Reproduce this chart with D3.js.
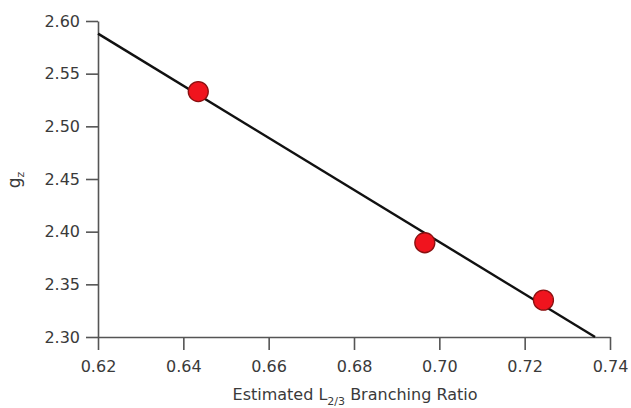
<!DOCTYPE html>
<html>
<head>
<meta charset="utf-8">
<script src="https://cdn.jsdelivr.net/npm/d3@7"></script>
<style>
  body { margin: 0; background: #fff; }
  svg { display: block; }
  text { font-family: "DejaVu Sans", sans-serif; }
</style>
</head>
<body>
<svg id="chart" width="631" height="408"></svg>
<script>
// measured points
var ratio = [0.6435, 0.6966, 0.7244];
var gz = [2.533, 2.3895, 2.335];

// fitted line end points
var fitX = [0.62, 0.7365];
var fitY = [2.588, 2.30];

var xTicks = [0.62, 0.64, 0.66, 0.68, 0.70, 0.72, 0.74];
var yTicks = [2.30, 2.35, 2.40, 2.45, 2.50, 2.55, 2.60];

var chart = d3.select("#chart");
var axisColor = "#555";

var x = d3.scaleLinear().domain([0.62, 0.74]).range([98, 610]);
var y = d3.scaleLinear().domain([2.30, 2.60]).range([337, 21]);

// axes
var yAxis = chart
  .append("g")
  .attr("transform", "translate(" + x(0.62) + ",0)")
  .call(
    d3.axisLeft(y).tickValues(yTicks).tickFormat(d3.format(".2f"))
      .tickSize(12).tickSizeOuter(0).tickPadding(6)
  );

var xAxis = chart
  .append("g")
  .attr("transform", "translate(0," + y(2.30) + ")")
  .call(
    d3.axisBottom(x).tickValues(xTicks).tickFormat(d3.format(".2f"))
      .tickSize(13).tickSizeOuter(0).tickPadding(11)
  );

[xAxis, yAxis].forEach(function (g) {
  g.selectAll("path, line").attr("stroke", axisColor).attr("stroke-width", 1.6);
  g.selectAll("text")
    .attr("fill", "#3a3a3a")
    .style("font-size", "16px");
});

// fit line
var pts = fitX.map(function (d, i) { return [d, fitY[i]]; });
chart
  .append("path")
  .datum(pts)
  .attr("fill", "none")
  .attr("stroke", "#111")
  .attr("stroke-width", 2.4)
  .attr("d", d3.line().x(function (d) { return x(d[0]); }).y(function (d) { return y(d[1]); }));

// points
chart
  .selectAll("circle.pt")
  .data(ratio)
  .enter()
  .append("circle")
  .attr("class", "pt")
  .attr("cx", function (d) { return x(d); })
  .attr("cy", function (d, i) { return y(gz[i]); })
  .attr("r", 10)
  .attr("fill", "#f0141e")
  .attr("stroke", "#8a1010")
  .attr("stroke-width", 1.3);

// x title
var xt = chart
  .append("text")
  .attr("x", 355)
  .attr("y", 400)
  .attr("text-anchor", "middle")
  .attr("fill", "#3a3a3a")
  .style("font-size", "16px");
xt.append("tspan").text("Estimated L");
xt.append("tspan").attr("dy", 5).style("font-size", "11px").text("2/3");
xt.append("tspan").attr("dy", -5).text(" Branching Ratio");

// y title
var yt = chart
  .append("text")
  .attr("transform", "translate(20,180) rotate(-90)")
  .attr("text-anchor", "middle")
  .attr("fill", "#3a3a3a")
  .style("font-size", "17px");
yt.append("tspan").text("g");
yt.append("tspan").attr("dy", 4).style("font-size", "11px").text("z");
</script>
</body>
</html>
